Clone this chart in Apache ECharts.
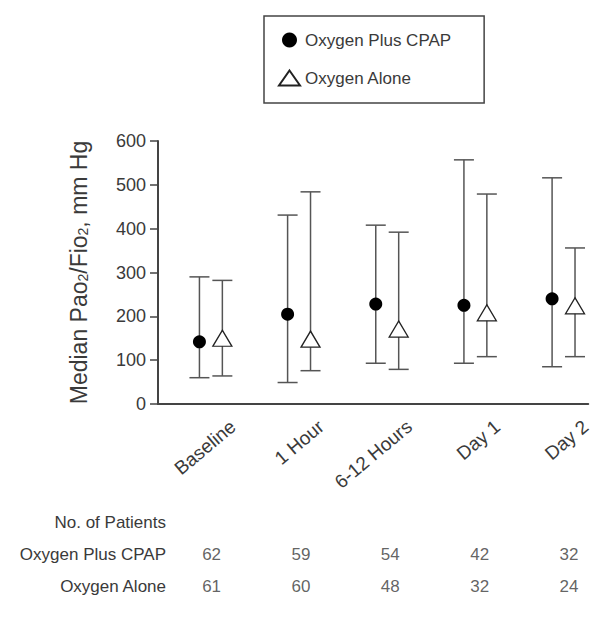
<!DOCTYPE html>
<html>
<head>
<meta charset="utf-8">
<script src="https://cdn.jsdelivr.net/npm/echarts@6/dist/echarts.min.js"></script>
<style>
  html, body { margin: 0; padding: 0; background: #fff; }
  #chart { width: 594px; height: 619px; }
</style>
</head>
<body>
<div id="chart"></div>
<script>
// time points
var categories = ['Baseline', '1 Hour', '6-12 Hours', 'Day 1', 'Day 2']
// median + range, oxygen plus CPAP
var cpapMedian = [142, 205, 228, 225, 240]
var cpapLow = [60, 49, 93, 93, 85]
var cpapHigh = [290, 431, 408, 557, 516]
// median + range, oxygen alone
var aloneMedian = [150, 148, 171, 208, 224]
var aloneLow = [64, 76, 79, 108, 108]
var aloneHigh = [282, 484, 392, 479, 356]
// patient counts
var rowNames = ['No. of Patients', 'Oxygen Plus CPAP', 'Oxygen Alone']
var cpapN = [62, 59, 54, 42, 32]
var aloneN = [61, 60, 48, 32, 24]
var yTicks = [0, 100, 200, 300, 400, 500, 600]

var FONT = '"Liberation Sans", Arial, sans-serif'
var TXT = '#3a3a3a'
var shift = 0.13 // half distance between the two markers of a group

function pts(vals, dx) {
  return vals.map(function (v, i) { return [i + dx, v] })
}
function bars(lo, hi, dx) {
  return lo.map(function (v, i) { return [i + dx, v, hi[i]] })
}

function renderBar(params, api) {
  var x = api.value(0)
  var top = api.coord([x, api.value(2)])
  var bot = api.coord([x, api.value(1)])
  var cap = 10
  var st = { stroke: '#555', lineWidth: 1.5 }
  return {
    type: 'group',
    children: [
      { type: 'line', shape: { x1: top[0], y1: top[1], x2: bot[0], y2: bot[1] }, style: st },
      { type: 'line', shape: { x1: top[0] - cap, y1: top[1], x2: top[0] + cap, y2: top[1] }, style: st },
      { type: 'line', shape: { x1: bot[0] - cap, y1: bot[1], x2: bot[0] + cap, y2: bot[1] }, style: st }
    ]
  }
}

var countData = []
cpapN.forEach(function (n, i) { countData.push([i, rowNames[1], n]) })
aloneN.forEach(function (n, i) { countData.push([i, rowNames[2], n]) })

var labelOffset = 0.25

var chart = echarts.init(document.getElementById('chart'), null, { renderer: 'svg' })
chart.setOption({
  animation: false,
  backgroundColor: '#fff',
  textStyle: { fontFamily: FONT },
  legend: {
    orient: 'vertical',
    left: 264,
    top: 16,
    padding: [14, 33, 15, 14],
    itemGap: 18,
    itemWidth: 21,
    itemHeight: 15,
    borderColor: '#444',
    borderWidth: 1.5,
    textStyle: { fontSize: 17, color: TXT, lineHeight: 20, fontFamily: FONT },
    data: ['Oxygen Plus CPAP', 'Oxygen Alone']
  },
  grid: [
    { left: 158, right: 0, top: 141, bottom: 215 },
    { left: 158, right: 0, top: 506, bottom: 16 }
  ],
  xAxis: [
    {
      type: 'value', gridIndex: 0, min: -0.6, max: 4.28, interval: 0.05,
      splitLine: { show: false },
      axisTick: { show: false },
      axisLine: { onZero: false, lineStyle: { color: '#444', width: 2 } },
      axisLabel: {
        rotate: 40, margin: 20, fontSize: 19, color: TXT, fontFamily: FONT,
        formatter: function (v) {
          var k = v - labelOffset
          var r = Math.round(k)
          if (Math.abs(k - r) < 1e-6 && r >= 0 && r < categories.length) return categories[r]
          return ''
        }
      }
    },
    {
      type: 'value', gridIndex: 1, min: -0.6, max: 4.28,
      show: false
    }
  ],
  yAxis: [
    {
      type: 'value', gridIndex: 0, min: yTicks[0], max: yTicks[yTicks.length - 1], interval: 100,
      name: '{a|Median Pao}{s|2}{a|/Fio}{s|2}{a|, mm Hg}',
      nameLocation: 'middle',
      nameGap: 68,
      nameTextStyle: {
        rich: {
          a: { fontSize: 23, color: TXT, fontFamily: FONT, lineHeight: 26, verticalAlign: 'bottom' },
          s: { fontSize: 14, color: TXT, fontFamily: FONT, lineHeight: 14, verticalAlign: 'bottom' }
        }
      },
      splitLine: { show: false },
      axisLine: { show: true, onZero: false, lineStyle: { color: '#444', width: 2 } },
      axisTick: { show: true, length: 8, lineStyle: { color: '#444', width: 1.5 } },
      axisLabel: { fontSize: 18, color: TXT, margin: 12, fontFamily: FONT }
    },
    {
      type: 'category', gridIndex: 1, inverse: true, data: rowNames,
      axisLine: { show: false }, axisTick: { show: false }, splitLine: { show: false },
      axisLabel: { fontSize: 17, color: TXT, margin: -8, fontFamily: FONT }
    }
  ],
  series: [
    {
      type: 'custom', name: 'cpapRange', xAxisIndex: 0, yAxisIndex: 0, z: 1,
      renderItem: renderBar, data: bars(cpapLow, cpapHigh, -shift)
    },
    {
      type: 'custom', name: 'aloneRange', xAxisIndex: 0, yAxisIndex: 0, z: 1,
      renderItem: renderBar, data: bars(aloneLow, aloneHigh, shift)
    },
    {
      type: 'scatter', name: 'Oxygen Plus CPAP', xAxisIndex: 0, yAxisIndex: 0, z: 3,
      symbol: 'circle', symbolSize: 13,
      itemStyle: { color: '#000', opacity: 1 },
      data: pts(cpapMedian, -shift)
    },
    {
      type: 'scatter', name: 'Oxygen Alone', xAxisIndex: 0, yAxisIndex: 0, z: 3,
      symbol: 'triangle', symbolSize: [19, 16],
      itemStyle: { color: '#fff', borderColor: '#222', borderWidth: 1.3, opacity: 1 },
      data: pts(aloneMedian, shift)
    },
    {
      type: 'scatter', name: 'counts', xAxisIndex: 1, yAxisIndex: 1,
      symbolSize: 0, silent: true,
      label: {
        show: true, position: 'inside', fontSize: 17, color: TXT, fontFamily: FONT,
        formatter: function (p) { return String(p.value[2]) }
      },
      data: countData
    }
  ]
})
</script>
</body>
</html>
